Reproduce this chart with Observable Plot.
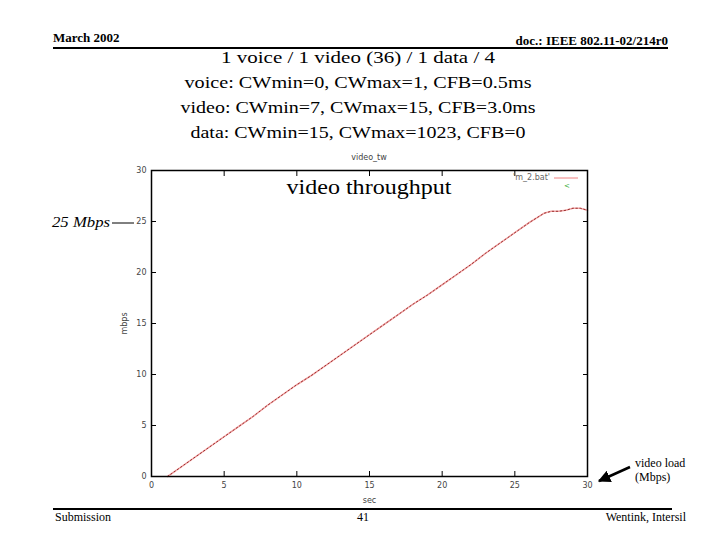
<!DOCTYPE html>
<html>
<head>
<meta charset="utf-8">
<script src="https://cdn.jsdelivr.net/npm/d3@7"></script>
<script src="https://cdn.jsdelivr.net/npm/@observablehq/plot@0.6"></script>
<style>
  html, body { margin: 0; padding: 0; background: white; }
  #wrap { position: relative; width: 720px; height: 540px; overflow: hidden; }
</style>
</head>
<body>
<div id="wrap"></div>
<script>
// ---- data ----
const seconds = [1.1, 2, 3, 4, 5, 6, 7, 8, 9, 10, 11, 12, 13, 14, 15, 16, 17, 18, 19, 20,
                 21, 22, 23, 24, 25, 26, 27, 27.5, 28, 28.5, 29, 29.5, 30];
const throughput = [0, 0.9, 1.9, 2.9, 3.9, 4.9, 5.9, 7.0, 8.0, 9.0, 9.9, 10.9, 11.9, 12.9, 13.9, 14.9,
                    15.9, 16.9, 17.8, 18.8, 19.8, 20.8, 21.9, 22.9, 23.9, 24.9, 25.8, 26.0, 26.0,
                    26.1, 26.3, 26.3, 26.1];
const xTicks = [0, 5, 10, 15, 20, 25, 30];
const yTicks = [0, 5, 10, 15, 20, 25, 30];
const titleLines = [
  "1 voice / 1 video (36) / 1 data / 4",
  "voice: CWmin=0, CWmax=1, CFB=0.5ms",
  "video: CWmin=7, CWmax=15, CFB=3.0ms",
  "data: CWmin=15, CWmax=1023, CFB=0"
];
const titleWidths = [274, 347, 355, 335];

const rows = seconds.map((t, i) => ({t, mbps: throughput[i]}));

const chart = Plot.plot({
  width: 720,
  height: 540,
  marginLeft: 151,
  marginRight: 133,
  marginTop: 170,
  marginBottom: 64,
  x: {domain: [0, 30]},
  y: {domain: [0, 30]},
  style: {fontFamily: "DejaVu Sans", fontSize: "8px", color: "#444", background: "white", overflow: "visible"},
  marks: [
    Plot.line(rows, {x: "t", y: "mbps", stroke: "#f4a8a8", strokeWidth: 1.6}),
    Plot.line(rows, {x: "t", y: "mbps", stroke: "#9a3030", strokeWidth: 1, strokeDasharray: "1.5,2.5"}),
    Plot.axisX(xTicks, {anchor: "bottom", tickSize: -5, text: null, label: null, stroke: "black"}),
    Plot.axisX(xTicks, {anchor: "top", tickSize: -5, text: null, label: null, stroke: "black"}),
    Plot.axisY(yTicks, {anchor: "left", tickSize: -5, text: null, label: null, stroke: "black"}),
    Plot.axisY(yTicks, {anchor: "right", tickSize: -5, text: null, label: null, stroke: "black"}),
    Plot.axisX(xTicks, {anchor: "bottom", tickSize: 0, tickPadding: 6, label: "sec", labelAnchor: "center", labelArrow: "none", labelOffset: 26}),
    Plot.axisY(yTicks, {anchor: "left", tickSize: 0, tickPadding: 5, label: "mbps", labelAnchor: "center", labelArrow: "none", labelOffset: 30}),
    Plot.frame({stroke: "black", strokeWidth: 1.5})
  ]
});
document.getElementById("wrap").appendChild(chart);

// ---- page decorations (slide) ----
const svg = d3.select(chart);
const serif = "Liberation Serif, Times New Roman, serif";
const g = svg.append("g").attr("text-anchor", "start");

g.append("text").attr("x", 53).attr("y", 42).attr("text-anchor", "start").attr("font-family", serif).attr("font-weight", "bold")
  .attr("font-size", 13).attr("fill", "black").text("March 2002");
g.append("text").attr("x", 668).attr("y", 45).attr("text-anchor", "end").attr("font-family", serif)
  .attr("font-weight", "bold").attr("font-size", 13).attr("fill", "black").text("doc.: IEEE 802.11-02/214r0");
g.append("line").attr("x1", 53).attr("x2", 668).attr("y1", 48).attr("y2", 48).attr("stroke", "black").attr("stroke-width", 2.2);

titleLines.forEach((s, i) => {
  g.append("text").attr("x", 358).attr("y", 63 + i * 25).attr("text-anchor", "middle")
    .attr("font-family", serif).attr("font-size", 17.5).attr("fill", "black")
    .attr("textLength", titleWidths[i]).attr("lengthAdjust", "spacingAndGlyphs").text(s);
});

// footer
g.append("line").attr("x1", 53).attr("x2", 672).attr("y1", 509).attr("y2", 509).attr("stroke", "black").attr("stroke-width", 2.2);
g.append("text").attr("x", 55).attr("y", 521).attr("text-anchor", "start").attr("font-family", serif).attr("font-size", 12).attr("fill", "black").text("Submission");
g.append("text").attr("x", 363).attr("y", 521).attr("text-anchor", "middle").attr("font-family", serif).attr("font-size", 12).attr("fill", "black").text("41");
g.append("text").attr("x", 686).attr("y", 521).attr("text-anchor", "end").attr("font-family", serif).attr("font-size", 12).attr("fill", "black").text("Wentink, Intersil");

// plot title (gnuplot) and legend
g.append("text").attr("x", 369).attr("y", 160).attr("text-anchor", "middle").attr("font-family", "DejaVu Sans")
  .attr("font-size", 8).attr("fill", "#444").text("video_tw");
g.append("text").attr("x", 550).attr("y", 180).attr("text-anchor", "end").attr("font-family", "DejaVu Sans")
  .attr("font-size", 8).attr("fill", "#666").text("'m_2.bat'");
g.append("line").attr("x1", 554).attr("x2", 578).attr("y1", 178).attr("y2", 178).attr("stroke", "#f08080").attr("stroke-width", 1);
g.append("text").attr("x", 567).attr("y", 188).attr("text-anchor", "middle").attr("font-family", "DejaVu Sans")
  .attr("font-size", 7).attr("fill", "#3a3").text("<");

// annotations
g.append("text").attr("x", 369).attr("y", 194).attr("text-anchor", "middle").attr("font-family", serif)
  .attr("font-size", 22).attr("fill", "black").attr("textLength", 165).attr("lengthAdjust", "spacingAndGlyphs").text("video throughput");
g.append("text").attr("x", 52).attr("y", 227).attr("text-anchor", "start").attr("font-family", serif).attr("font-style", "italic")
  .attr("font-size", 15).attr("fill", "black").attr("textLength", 58).attr("lengthAdjust", "spacingAndGlyphs").text("25 Mbps");
g.append("line").attr("x1", 112).attr("x2", 134).attr("y1", 223).attr("y2", 223).attr("stroke", "black").attr("stroke-width", 1);
g.append("text").attr("x", 635).attr("y", 467).attr("text-anchor", "start").attr("font-family", serif).attr("font-size", 12).attr("fill", "black").text("video load");
g.append("text").attr("x", 635).attr("y", 481).attr("text-anchor", "start").attr("font-family", serif).attr("font-size", 12).attr("fill", "black").text("(Mbps)");

const defs = svg.append("defs");
defs.append("marker").attr("id", "ah").attr("viewBox", "0 0 10 10").attr("refX", 9).attr("refY", 5)
  .attr("markerWidth", 5).attr("markerHeight", 5).attr("orient", "auto-start-reverse")
  .append("path").attr("d", "M0,0 L10,5 L0,10 z").attr("fill", "black");
g.append("line").attr("x1", 630).attr("y1", 467).attr("x2", 599).attr("y2", 481)
  .attr("stroke", "black").attr("stroke-width", 2.5).attr("marker-end", "url(#ah)");
</script>
</body>
</html>
